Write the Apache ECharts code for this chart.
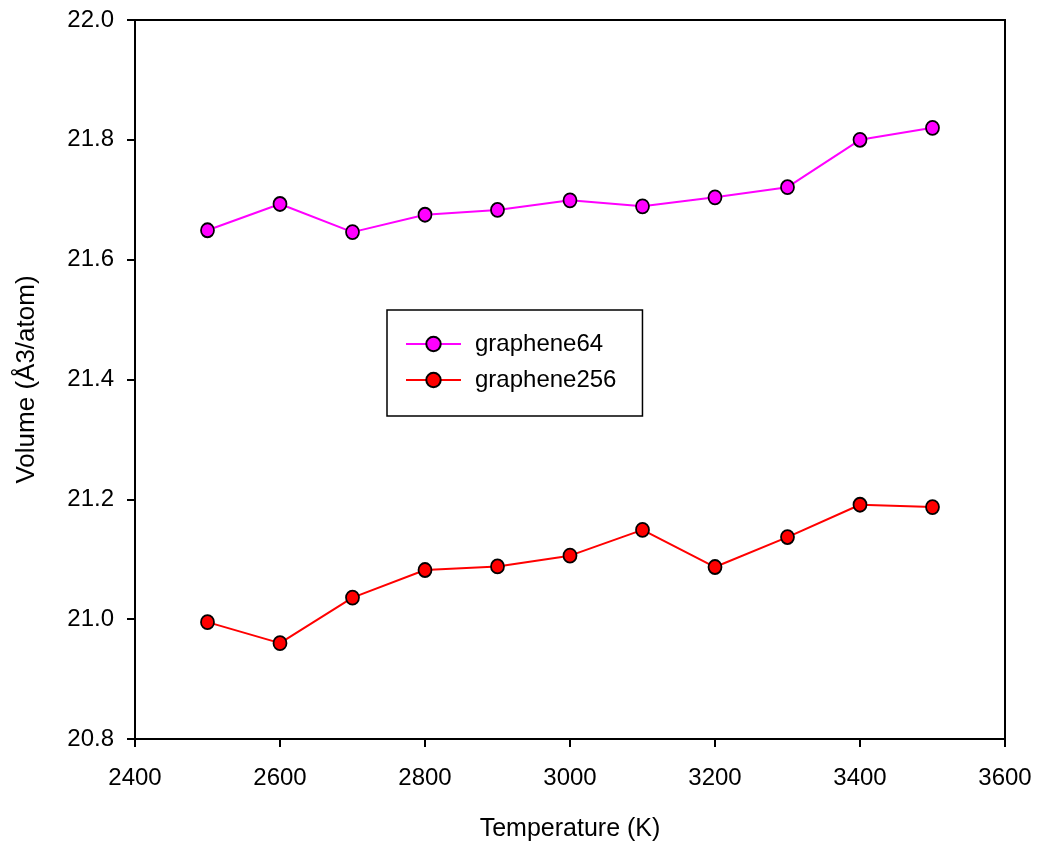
<!DOCTYPE html>
<html>
<head>
<meta charset="utf-8">
<script src="https://cdn.jsdelivr.net/npm/echarts@6/dist/echarts.min.js"></script>
<style>
  html, body { margin: 0; padding: 0; background: #fff; }
  #chart { width: 1039px; height: 850px; }
</style>
</head>
<body>
<div id="chart"></div>
<script>
// Temperatures (K)
const temperatures = [2500, 2600, 2700, 2800, 2900, 3000, 3100, 3200, 3300, 3400, 3500];
// Volume per atom (Å3/atom)
const graphene64 = [21.649, 21.693, 21.646, 21.675, 21.683, 21.699, 21.689, 21.704, 21.721, 21.800, 21.820];
const graphene256 = [20.995, 20.960, 21.036, 21.082, 21.088, 21.106, 21.149, 21.087, 21.137, 21.191, 21.187];

const FONT = '"Liberation Sans", Arial, sans-serif';

function pairs(xs, ys) {
  return xs.map((x, i) => [x, ys[i]]);
}

const chart = echarts.init(document.getElementById('chart'));
chart.setOption({
  animation: false,
  backgroundColor: '#ffffff',
  grid: {
    left: 135, right: 34, top: 20, bottom: 111,
    show: true, borderColor: '#000', borderWidth: 2, backgroundColor: 'transparent'
  },
  xAxis: {
    type: 'value', min: 2400, max: 3600, interval: 200,
    name: 'Temperature (K)', nameLocation: 'middle', nameGap: 78,
    nameTextStyle: { fontFamily: FONT, fontSize: 25, color: '#000' },
    axisLine: { lineStyle: { color: '#000', width: 2 } },
    axisTick: { inside: false, length: 8, lineStyle: { color: '#000', width: 2 } },
    axisLabel: { fontFamily: FONT, fontSize: 24, color: '#000', margin: 27,
      formatter: v => String(v) },
    splitLine: { show: false }
  },
  yAxis: {
    type: 'value', min: 20.8, max: 22.0, interval: 0.2,
    name: 'Volume (Å3/atom)', nameLocation: 'middle', nameGap: 95,
    nameTextStyle: { fontFamily: FONT, fontSize: 26, color: '#000' },
    axisLine: { lineStyle: { color: '#000', width: 2 } },
    axisTick: { inside: false, length: 8, lineStyle: { color: '#000', width: 2 } },
    axisLabel: { fontFamily: FONT, fontSize: 24, color: '#000', margin: 21,
      formatter: v => v.toFixed(1) },
    splitLine: { show: false }
  },
  legend: {
    orient: 'vertical', left: 387, top: 310,
    padding: [21, 26, 23, 18],
    borderColor: '#000', borderWidth: 1.5,
    itemWidth: 55, itemHeight: 18, itemGap: 10,
    textStyle: { fontFamily: FONT, fontSize: 24, color: '#000', lineHeight: 26, padding: [0, 0, 0, 9] },
    data: ['graphene64', 'graphene256']
  },
  series: [
    {
      name: 'graphene64', type: 'line', data: pairs(temperatures, graphene64),
      symbol: 'circle', symbolSize: [13, 14],
      lineStyle: { color: '#ff00ff', width: 2 },
      itemStyle: { color: '#ff00ff', borderColor: '#000', borderWidth: 1.8 }
    },
    {
      name: 'graphene256', type: 'line', data: pairs(temperatures, graphene256),
      symbol: 'circle', symbolSize: [13, 14],
      lineStyle: { color: '#ff0000', width: 2 },
      itemStyle: { color: '#ff0000', borderColor: '#000', borderWidth: 1.8 }
    }
  ]
});
</script>
</body>
</html>
